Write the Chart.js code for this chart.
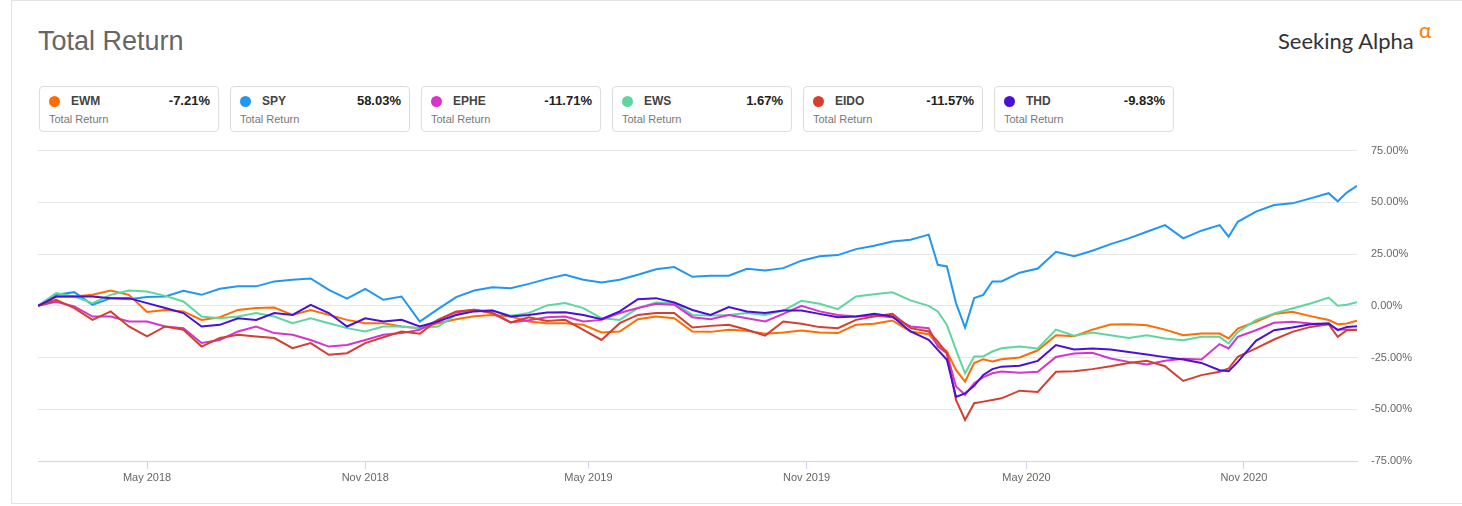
<!DOCTYPE html>
<html>
<head>
<meta charset="utf-8">
<script src="https://cdn.jsdelivr.net/npm/chart.js@4.4.1/dist/chart.umd.min.js"></script>
<style>
  body { margin: 0; background: #fff; font-family: "Liberation Sans", Arial, sans-serif; }
  #frame { position: absolute; left: 11px; top: 0; width: 1460px; height: 504px; border: 1px solid #e3e3e3; box-sizing: border-box; }
  #title { position: absolute; left: 38px; top: 26px; font-size: 27px; color: #666; }
  #logo { position: absolute; left: 1278px; top: 27px; font-family: Lato, sans-serif; font-size: 22px; color: #333; white-space: nowrap; }
  #logo span { position: absolute; left: 141px; top: -10px; color: #ff7a00; font-size: 21px; }
  .box { position: absolute; top: 86px; width: 180px; height: 46px; border: 1px solid #ddd; border-radius: 4px; box-sizing: border-box; }
  .dot { position: absolute; left: 9px; top: 9px; width: 11px; height: 11px; border-radius: 50%; }
  .tk { position: absolute; left: 31px; top: 7px; font-size: 12px; font-weight: bold; color: #444; }
  .val { position: absolute; right: 8px; top: 6px; font-size: 13px; font-weight: bold; color: #222; }
  .sub { position: absolute; left: 9px; top: 26px; font-size: 11px; color: #777; }
  #wrap { position: absolute; left: 0; top: 130px; width: 1462px; height: 370px; }
</style>
</head>
<body>
<div id="frame"></div>
<div id="title">Total Return</div>
<div id="logo">Seeking Alpha<span>α</span></div>
<div id="legend"></div>
<div id="wrap"><canvas id="line-chart" width="1462" height="370"></canvas></div>
<script>
// months since Feb 1 2018
let months = [0, 0.5, 1, 1.5, 2, 2.5, 3, 3.5, 4, 4.5, 5, 5.5, 6, 6.5, 7, 7.5, 8, 8.5, 9, 9.5,
  10, 10.5, 11, 11.5, 12, 12.5, 13, 13.5, 14, 14.5, 15, 15.5, 16, 16.5, 17, 17.5, 18, 18.5, 19, 19.5,
  20, 20.5, 21, 21.5, 22, 22.5, 23, 23.5, 24, 24.5, 24.75, 25, 25.25, 25.5, 25.75, 26, 26.25, 26.5,
  27, 27.5, 28, 28.5, 29, 29.5, 30, 30.5, 31, 31.5, 32, 32.5, 32.75, 33, 33.5, 34, 34.5, 35, 35.5,
  35.75, 36, 36.28]

let spyValues = [0, 5.3, 6.6, 0.5, 3.7, 3.2, 4.2, 4.5, 7.3, 5.3, 8.2, 9.4, 9.4, 11.8, 12.6, 13.2, 7.7, 3.5, 8.2, 2.9,
  4.5, -7.6, -1.6, 4.2, 7.4, 9, 8.5, 10.6, 13, 15, 12.6, 11.3, 12.6, 15, 17.7, 18.7, 14, 14.5, 14.5, 17.9,
  17.1, 18.2, 21.8, 23.9, 24.5, 27.4, 29, 31.1, 31.9, 34.4, 19.8, 19, 1.3, -10.5, 3.7, 5.3, 11.8, 11.8,
  16, 18, 26.1, 24, 26.6, 29.8, 32.6, 35.8, 39, 32.6, 36.3, 39, 33.4, 40.6, 45.5, 48.7, 49.5, 51.9, 54.4,
  50.5, 54.7, 58.03]
let ewmValues = [0, 4.5, 4.5, 5.3, 7.4, 5.3, -3, -2, -2.7, -6.8, -5.5, -2, -1.1, -0.8, -4.4, -2, -4.4, -6.8, -8.4, -8.4,
  -10, -10.8, -8.4, -6.5, -5, -4.4, -5.2, -7.6, -8.4, -8.4, -9.2, -12.9, -12.4, -6.5, -5.2, -6, -12.4, -12.6, -11.6, -12.1,
  -13.5, -12.9, -11.9, -12.9, -13.2, -9.2, -8.7, -7.1, -12.4, -13.7, -18.9, -22.1, -31, -36.6, -27.7, -25.8, -26.9, -25.8,
  -25, -21.5, -14.2, -14.7, -11.5, -9, -8.9, -9.4, -11.5, -14.2, -13.4, -13.4, -15.8, -11, -7.7, -4, -2.9, -5, -6.9,
  -8.9, -8.5, -7.21]
let epheValues = [0, 2, -0.3, -5.2, -5.2, -7.6, -7.6, -10, -10.8, -18, -16.5, -12.4, -10, -13.2, -14, -16.5, -19.7, -18.9, -16.5, -14,
  -13.2, -11.6, -6.8, -3.2, -1.9, -3.5, -8, -7, -5.5, -5.2, -7.6, -6.8, -3.5, -1.1, 1, 0.5, -5.5, -6.5, -4.4, -6,
  -7.6, -3.9, 0, -2.7, -4.4, -5.2, -4.7, -5.5, -10, -10.8, -19.7, -22.9, -39, -43, -37.4, -34.5, -32.6, -31.8,
  -32.4, -31.9, -24.7, -23.1, -22.7, -25.5, -27.1, -28.4, -26.6, -25.6, -26, -18.5, -20.6, -15, -11.8, -8.2, -7.7, -8.5, -8.9,
  -11.5, -11.5, -11.71]
let ewsValues = [0, 6.1, 4.5, 1.3, 5.3, 7.4, 6.9, 4.8, 2.1, -5.2, -6, -5.2, -3.5, -5.2, -8.4, -6, -8.4, -10.8, -12.4, -10,
  -10, -10.8, -10, -4.4, -2.3, -2.3, -4.8, -3.5, 0.2, 1.3, -1.1, -6, -6.8, -1.1, 1.6, 1.3, -4.4, -4.7, -4.4, -3.5,
  -4.4, -2.3, 2.4, 1, -1.6, 4.5, 5.6, 6.5, 2.6, 0, -2.7, -9.2, -21.3, -32.6, -24.5, -24.5, -22.1, -20.5,
  -19.7, -20.6, -11.5, -14.5, -12.9, -14.2, -15.5, -14.2, -15.8, -16.6, -15, -15, -18.2, -12.6, -6.9, -3.7, -1.3, 1.1, 4,
  0, 0.5, 1.67]
let eidoValues = [0, 2.9, -1.1, -6.8, -2.7, -10, -14.8, -10, -11.6, -19.7, -15.6, -14, -14.8, -15.6, -20.5, -18, -23.7, -22.9, -18, -15.2,
  -12.4, -13.5, -6.8, -2.7, -1.9, -3.5, -8, -5.5, -7.3, -6.8, -11.6, -16.5, -8.4, -4.4, -3.5, -3.5, -10.5, -9.7, -9.2, -11.6,
  -14.4, -7.6, -8.7, -10.3, -10.8, -6.8, -5.2, -3.9, -10.8, -12.4, -17.3, -22.9, -45.5, -55.2, -47.1, -46.3, -45.5, -44.7,
  -41, -41.6, -31.9, -31.6, -30.6, -29.2, -27.6, -26.6, -29.2, -36.3, -33.5, -31.9, -30.3, -24.7, -20.6, -16.3, -12.6, -10.2, -8.9,
  -15, -11.8, -11.57]
let thdValues = [0, 4.5, 4.5, 4.5, 3.7, 3.7, 1.3, -1.1, -3.5, -10, -9.2, -6, -6.8, -3.5, -4.4, 0.5, -3.5, -10, -6, -7.6,
  -6.8, -10, -7.6, -4.4, -2.7, -2.3, -5.2, -4.4, -3.2, -3.1, -4.4, -6.5, -2.7, 3.2, 3.7, 1.6, -2, -4.4, -0.6, -2.7,
  -3.5, -2.3, -2.3, -3.9, -5.5, -5.2, -3.9, -5.2, -12.4, -16.5, -21.3, -26.1, -44, -42.3, -38.7, -33.4, -30.6, -29.4,
  -29, -26.6, -19, -21.1, -20.6, -21.1, -22.3, -23.5, -24.8, -26, -27.6, -31.1, -31.6, -27.1, -16.9, -11.8, -10.5, -8.9, -8.5,
  -11.8, -10.2, -9.83]

let tickMonths = [3, 9, 15.14, 21.14, 27.19, 33.17]
let tickLabels = ['May 2018', 'Nov 2018', 'May 2019', 'Nov 2019', 'May 2020', 'Nov 2020']

let series = [
  { name: 'EWM', color: '#ff6d00', values: ewmValues, order: 5 },
  { name: 'SPY', color: '#2196f3', values: spyValues, order: 6 },
  { name: 'EPHE', color: '#d535c8', values: epheValues, order: 3 },
  { name: 'EWS', color: '#5fd6a0', values: ewsValues, order: 4 },
  { name: 'EIDO', color: '#d3402f', values: eidoValues, order: 2 },
  { name: 'THD', color: '#4a10da', values: thdValues, order: 1 }
]

// legend boxes
let legendHtml = ''
series.forEach((s, i) => {
  let last = s.values[s.values.length - 1]
  legendHtml += '<div class="box" style="left:' + (39 + i * 191) + 'px">' +
    '<div class="dot" style="background:' + s.color + '"></div>' +
    '<div class="tk">' + s.name + '</div>' +
    '<div class="val">' + last.toFixed(2) + '%</div>' +
    '<div class="sub">Total Return</div></div>'
})
document.getElementById('legend').innerHTML = legendHtml

new Chart(document.getElementById('line-chart'), {
  type: 'line',
  data: {
    datasets: series.map(s => ({
      label: s.name,
      data: months.map((m, i) => ({ x: m, y: s.values[i] })),
      borderColor: s.color,
      borderWidth: 2,
      pointRadius: 0,
      tension: 0,
      fill: false,
      order: s.order
    }))
  },
  options: {
    responsive: false,
    animation: false,
    layout: { padding: { left: 38, top: 19, right: 0, bottom: 0 } },
    plugins: { legend: { display: false }, tooltip: { enabled: false } },
    scales: {
      x: {
        type: 'linear',
        min: 0,
        max: 36.28,
        afterBuildTicks: axis => { axis.ticks = tickMonths.map(v => ({ value: v })) },
        afterFit: axis => { axis.height = 39 },
        ticks: {
          autoSkip: false,
          maxRotation: 0,
          padding: 2,
          color: '#666',
          font: { family: '"Liberation Sans", Arial', size: 11 },
          callback: v => tickLabels[tickMonths.indexOf(v)]
        },
        grid: { drawOnChartArea: false, tickLength: 8, color: '#ccd6eb' },
        border: { color: '#ccd6eb', width: 1 }
      },
      y: {
        position: 'right',
        min: -75,
        max: 75,
        afterFit: axis => { axis.width = 105 },
        ticks: {
          stepSize: 25,
          padding: 14,
          color: '#666',
          font: { family: '"Liberation Sans", Arial', size: 11 },
          callback: v => v.toFixed(2) + '%'
        },
        grid: { color: '#e6e6e6', drawTicks: false },
        border: { display: false }
      }
    }
  }
})
</script>
</body>
</html>
